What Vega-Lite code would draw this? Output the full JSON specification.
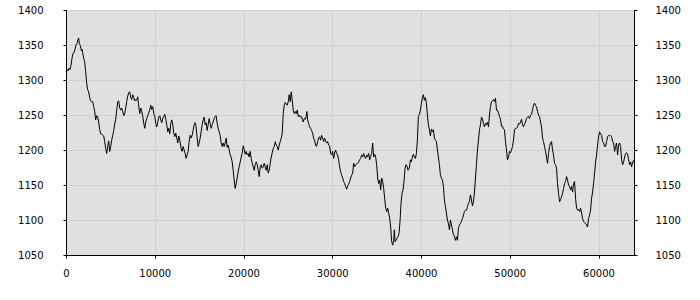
{
"$schema":"https://vega.github.io/schema/vega-lite/v6.json",
"width":568,"height":245,
"autosize":{"type":"none"},
"padding":{"left":66,"top":10,"right":66,"bottom":45},
"background":"white",
"config":{
"view":{"fill":"#e0e0e0","stroke":"black","strokeWidth":1},
"axis":{"labelFont":"DejaVu Sans","labelFontSize":10,"labelColor":"black","tickColor":"black","domainColor":"black","tickSize":3,"gridColor":"#d0d0d0","gridWidth":1,"title":null}
},
"data":{"values":[
{"x":0,"y":1312},{"x":113,"y":1315},{"x":226,"y":1313},{"x":338,"y":1317},{"x":451,"y":1315},{"x":564,"y":1321},{"x":677,"y":1331},{"x":790,"y":1338},{"x":902,"y":1339},{"x":1015,"y":1344},{"x":1128,"y":1350},{"x":1241,"y":1352},{"x":1354,"y":1358},{"x":1429,"y":1360},{"x":1504,"y":1352},{"x":1617,"y":1349},{"x":1730,"y":1342},{"x":1805,"y":1344},{"x":1880,"y":1339},{"x":1993,"y":1331},{"x":2106,"y":1326},{"x":2218,"y":1312},{"x":2331,"y":1295},{"x":2444,"y":1286},{"x":2557,"y":1283},{"x":2670,"y":1275},{"x":2782,"y":1270},{"x":2895,"y":1269},{"x":3008,"y":1269},{"x":3121,"y":1262},{"x":3234,"y":1255},{"x":3346,"y":1243},{"x":3459,"y":1249},{"x":3572,"y":1247},{"x":3685,"y":1240},{"x":3798,"y":1229},{"x":3910,"y":1223},{"x":4023,"y":1223},{"x":4136,"y":1221},{"x":4249,"y":1220},{"x":4362,"y":1212},{"x":4474,"y":1202},{"x":4587,"y":1195},{"x":4700,"y":1205},{"x":4813,"y":1213},{"x":4926,"y":1198},{"x":5038,"y":1205},{"x":5151,"y":1214},{"x":5264,"y":1221},{"x":5377,"y":1228},{"x":5490,"y":1237},{"x":5602,"y":1244},{"x":5715,"y":1257},{"x":5828,"y":1269},{"x":5941,"y":1270},{"x":6054,"y":1260},{"x":6166,"y":1257},{"x":6279,"y":1260},{"x":6392,"y":1255},{"x":6505,"y":1249},{"x":6618,"y":1252},{"x":6730,"y":1260},{"x":6843,"y":1269},{"x":6956,"y":1277},{"x":7069,"y":1282},{"x":7182,"y":1283},{"x":7294,"y":1275},{"x":7407,"y":1272},{"x":7520,"y":1279},{"x":7633,"y":1275},{"x":7746,"y":1270},{"x":7858,"y":1272},{"x":7971,"y":1271},{"x":8084,"y":1276},{"x":8197,"y":1262},{"x":8310,"y":1252},{"x":8422,"y":1260},{"x":8535,"y":1255},{"x":8648,"y":1248},{"x":8761,"y":1238},{"x":8874,"y":1231},{"x":8986,"y":1240},{"x":9099,"y":1245},{"x":9212,"y":1249},{"x":9325,"y":1253},{"x":9438,"y":1257},{"x":9550,"y":1264},{"x":9663,"y":1258},{"x":9776,"y":1262},{"x":9889,"y":1252},{"x":10002,"y":1248},{"x":10114,"y":1238},{"x":10227,"y":1233},{"x":10340,"y":1240},{"x":10453,"y":1247},{"x":10566,"y":1249},{"x":10678,"y":1243},{"x":10791,"y":1239},{"x":10904,"y":1245},{"x":11017,"y":1248},{"x":11130,"y":1251},{"x":11242,"y":1244},{"x":11355,"y":1236},{"x":11468,"y":1226},{"x":11581,"y":1231},{"x":11694,"y":1223},{"x":11806,"y":1238},{"x":11919,"y":1243},{"x":12032,"y":1236},{"x":12145,"y":1224},{"x":12258,"y":1219},{"x":12370,"y":1224},{"x":12483,"y":1217},{"x":12596,"y":1210},{"x":12709,"y":1220},{"x":12822,"y":1214},
{"x":12972,"y":1202},{"x":13085,"y":1198},{"x":13197,"y":1205},{"x":13310,"y":1200},{"x":13423,"y":1195},{"x":13536,"y":1188},{"x":13649,"y":1193},{"x":13761,"y":1198},{"x":13874,"y":1212},{"x":13987,"y":1221},{"x":14100,"y":1217},{"x":14213,"y":1221},{"x":14325,"y":1228},{"x":14438,"y":1236},{"x":14551,"y":1239},{"x":14664,"y":1233},{"x":14777,"y":1217},{"x":14889,"y":1205},{"x":15002,"y":1210},{"x":15115,"y":1217},{"x":15228,"y":1226},{"x":15341,"y":1236},{"x":15453,"y":1243},{"x":15566,"y":1247},{"x":15679,"y":1236},{"x":15792,"y":1239},{"x":15905,"y":1228},{"x":16017,"y":1236},{"x":16130,"y":1245},{"x":16243,"y":1238},{"x":16356,"y":1231},{"x":16469,"y":1236},{"x":16581,"y":1240},{"x":16694,"y":1245},{"x":16807,"y":1248},{"x":16920,"y":1249},{"x":17033,"y":1238},{"x":17145,"y":1231},{"x":17258,"y":1226},{"x":17371,"y":1221},{"x":17484,"y":1210},{"x":17597,"y":1205},{"x":17709,"y":1210},{"x":17822,"y":1205},{"x":17935,"y":1210},{"x":18048,"y":1217},{"x":18161,"y":1204},{"x":18273,"y":1207},{"x":18386,"y":1200},{"x":18499,"y":1193},{"x":18612,"y":1190},{"x":18725,"y":1183},{"x":18837,"y":1171},{"x":18950,"y":1157},{"x":19063,"y":1145},{"x":19176,"y":1152},{"x":19289,"y":1160},{"x":19401,"y":1169},{"x":19514,"y":1176},{"x":19627,"y":1183},{"x":19740,"y":1190},{"x":19853,"y":1195},{"x":19965,"y":1206},{"x":20078,"y":1201},{"x":20191,"y":1194},{"x":20304,"y":1198},{"x":20417,"y":1193},{"x":20529,"y":1195},{"x":20642,"y":1190},{"x":20755,"y":1198},{"x":20868,"y":1188},{"x":20981,"y":1181},{"x":21093,"y":1176},{"x":21206,"y":1171},{"x":21319,"y":1179},{"x":21432,"y":1183},{"x":21545,"y":1179},{"x":21657,"y":1171},{"x":21770,"y":1162},{"x":21883,"y":1176},{"x":21996,"y":1179},{"x":22109,"y":1174},{"x":22221,"y":1176},{"x":22334,"y":1181},{"x":22447,"y":1176},{"x":22560,"y":1171},{"x":22673,"y":1179},{"x":22785,"y":1167},{"x":22898,"y":1171},{"x":23011,"y":1181},{"x":23124,"y":1190},{"x":23237,"y":1196},{"x":23349,"y":1202},{"x":23462,"y":1205},{"x":23575,"y":1212},{"x":23688,"y":1207},{"x":23801,"y":1205},{"x":23913,"y":1200},{"x":24026,"y":1207},{"x":24139,"y":1212},{"x":24252,"y":1217},{"x":24365,"y":1224},{"x":24477,"y":1252},{"x":24590,"y":1264},{"x":24703,"y":1268},{"x":24816,"y":1266},{"x":24929,"y":1264},{"x":25041,"y":1269},{"x":25154,"y":1279},{"x":25267,"y":1269},{"x":25380,"y":1283},{"x":25493,"y":1271},{"x":25605,"y":1257},
{"x":25718,"y":1252},{"x":25831,"y":1255},{"x":25944,"y":1252},{"x":26056,"y":1257},{"x":26169,"y":1248},{"x":26282,"y":1250},{"x":26395,"y":1247},{"x":26508,"y":1248},{"x":26620,"y":1244},{"x":26733,"y":1240},{"x":26846,"y":1245},{"x":26959,"y":1244},{"x":27072,"y":1248},{"x":27147,"y":1255},{"x":27222,"y":1243},{"x":27335,"y":1238},{"x":27448,"y":1233},{"x":27560,"y":1231},{"x":27673,"y":1228},{"x":27786,"y":1224},{"x":27899,"y":1217},{"x":28012,"y":1214},{"x":28124,"y":1207},{"x":28237,"y":1205},{"x":28350,"y":1212},{"x":28463,"y":1217},{"x":28576,"y":1219},{"x":28688,"y":1214},{"x":28801,"y":1221},{"x":28914,"y":1217},{"x":29027,"y":1212},{"x":29140,"y":1217},{"x":29252,"y":1213},{"x":29365,"y":1210},{"x":29478,"y":1212},{"x":29591,"y":1207},{"x":29704,"y":1206},{"x":29816,"y":1195},{"x":29929,"y":1193},{"x":30042,"y":1198},{"x":30155,"y":1188},{"x":30268,"y":1196},{"x":30380,"y":1200},{"x":30493,"y":1195},{"x":30606,"y":1193},{"x":30719,"y":1186},{"x":30832,"y":1176},{"x":30944,"y":1169},{"x":31057,"y":1164},{"x":31170,"y":1160},{"x":31283,"y":1155},{"x":31396,"y":1152},{"x":31508,"y":1148},{"x":31621,"y":1144},{"x":31734,"y":1149},{"x":31847,"y":1151},{"x":31960,"y":1155},{"x":32072,"y":1160},{"x":32185,"y":1164},{"x":32298,"y":1167},{"x":32411,"y":1181},{"x":32524,"y":1176},{"x":32636,"y":1179},{"x":32749,"y":1180},{"x":32862,"y":1181},{"x":32975,"y":1183},{"x":33088,"y":1186},{"x":33200,"y":1188},{"x":33313,"y":1193},{"x":33426,"y":1190},{"x":33539,"y":1195},{"x":33652,"y":1190},{"x":33764,"y":1188},{"x":33877,"y":1193},{"x":33990,"y":1190},{"x":34103,"y":1195},{"x":34216,"y":1186},{"x":34328,"y":1191},{"x":34441,"y":1195},{"x":34554,"y":1210},{"x":34667,"y":1190},{"x":34780,"y":1194},{"x":34892,"y":1190},{"x":35005,"y":1179},{"x":35118,"y":1160},{"x":35231,"y":1152},{"x":35344,"y":1157},{"x":35456,"y":1143},{"x":35569,"y":1160},{"x":35682,"y":1155},{"x":35795,"y":1145},{"x":35908,"y":1131},{"x":36020,"y":1117},{"x":36133,"y":1112},{"x":36246,"y":1117},{"x":36359,"y":1110},{"x":36472,"y":1102},{"x":36584,"y":1090},{"x":36697,"y":1069},{"x":36810,"y":1064},{"x":36923,"y":1071},{"x":36998,"y":1086},{"x":37073,"y":1069},{"x":37186,"y":1071},{"x":37299,"y":1074},{"x":37412,"y":1076},{"x":37524,"y":1081},{"x":37637,"y":1098},{"x":37750,"y":1124},{"x":37863,"y":1138},{"x":37976,"y":1143},{"x":38088,"y":1155},{"x":38201,"y":1174},{"x":38314,"y":1179},{"x":38427,"y":1177},{"x":38540,"y":1171},
{"x":38691,"y":1174},{"x":38804,"y":1186},{"x":38916,"y":1183},{"x":39029,"y":1190},{"x":39142,"y":1194},{"x":39255,"y":1190},{"x":39368,"y":1188},{"x":39480,"y":1195},{"x":39593,"y":1214},{"x":39706,"y":1248},{"x":39819,"y":1251},{"x":39932,"y":1257},{"x":40044,"y":1267},{"x":40157,"y":1274},{"x":40270,"y":1279},{"x":40383,"y":1271},{"x":40496,"y":1275},{"x":40608,"y":1267},{"x":40721,"y":1250},{"x":40834,"y":1236},{"x":40947,"y":1229},{"x":41060,"y":1220},{"x":41172,"y":1230},{"x":41285,"y":1226},{"x":41398,"y":1229},{"x":41511,"y":1217},{"x":41624,"y":1214},{"x":41736,"y":1212},{"x":41849,"y":1200},{"x":41962,"y":1190},{"x":42075,"y":1179},{"x":42188,"y":1164},{"x":42300,"y":1160},{"x":42413,"y":1157},{"x":42526,"y":1148},{"x":42639,"y":1129},{"x":42752,"y":1119},{"x":42864,"y":1110},{"x":42977,"y":1100},{"x":43090,"y":1095},{"x":43203,"y":1086},{"x":43316,"y":1100},{"x":43428,"y":1093},{"x":43541,"y":1086},{"x":43654,"y":1079},{"x":43767,"y":1077},{"x":43880,"y":1071},{"x":43992,"y":1076},{"x":44105,"y":1071},{"x":44218,"y":1088},{"x":44331,"y":1093},{"x":44444,"y":1095},{"x":44556,"y":1098},{"x":44669,"y":1102},{"x":44782,"y":1107},{"x":44895,"y":1112},{"x":45008,"y":1114},{"x":45120,"y":1114},{"x":45233,"y":1119},{"x":45346,"y":1124},{"x":45459,"y":1126},{"x":45572,"y":1136},{"x":45684,"y":1129},{"x":45797,"y":1120},{"x":45910,"y":1126},{"x":46023,"y":1140},{"x":46136,"y":1160},{"x":46248,"y":1179},{"x":46361,"y":1200},{"x":46474,"y":1214},{"x":46587,"y":1229},{"x":46700,"y":1236},{"x":46812,"y":1247},{"x":46925,"y":1245},{"x":47038,"y":1238},{"x":47151,"y":1233},{"x":47264,"y":1238},{"x":47376,"y":1236},{"x":47489,"y":1240},{"x":47602,"y":1233},{"x":47715,"y":1250},{"x":47828,"y":1262},{"x":47940,"y":1269},{"x":48053,"y":1270},{"x":48166,"y":1272},{"x":48279,"y":1269},{"x":48392,"y":1274},{"x":48504,"y":1257},{"x":48617,"y":1257},{"x":48730,"y":1253},{"x":48843,"y":1248},{"x":48956,"y":1244},{"x":49068,"y":1234},{"x":49181,"y":1234},{"x":49294,"y":1230},{"x":49407,"y":1229},{"x":49520,"y":1212},{"x":49632,"y":1200},{"x":49745,"y":1186},{"x":49858,"y":1190},{"x":49971,"y":1198},{"x":50084,"y":1196},{"x":50196,"y":1200},{"x":50309,"y":1205},{"x":50422,"y":1214},{"x":50535,"y":1229},{"x":50648,"y":1231},{"x":50760,"y":1231},{"x":50873,"y":1233},{"x":50986,"y":1238},{"x":51099,"y":1237},{"x":51212,"y":1240},{"x":51324,"y":1244},
{"x":51437,"y":1236},{"x":51550,"y":1233},{"x":51663,"y":1237},{"x":51775,"y":1240},{"x":51888,"y":1245},{"x":52001,"y":1247},{"x":52114,"y":1248},{"x":52227,"y":1245},{"x":52339,"y":1250},{"x":52452,"y":1251},{"x":52565,"y":1257},{"x":52678,"y":1264},{"x":52791,"y":1267},{"x":52903,"y":1263},{"x":53016,"y":1262},{"x":53129,"y":1255},{"x":53242,"y":1250},{"x":53355,"y":1248},{"x":53467,"y":1240},{"x":53580,"y":1233},{"x":53693,"y":1217},{"x":53806,"y":1212},{"x":53919,"y":1205},{"x":54031,"y":1198},{"x":54144,"y":1190},{"x":54257,"y":1181},{"x":54370,"y":1195},{"x":54483,"y":1205},{"x":54595,"y":1210},{"x":54708,"y":1212},{"x":54821,"y":1200},{"x":54934,"y":1193},{"x":55047,"y":1181},{"x":55159,"y":1179},{"x":55272,"y":1174},{"x":55385,"y":1152},{"x":55498,"y":1138},{"x":55611,"y":1126},{"x":55723,"y":1129},{"x":55836,"y":1133},{"x":55949,"y":1138},{"x":56062,"y":1145},{"x":56175,"y":1152},{"x":56287,"y":1155},{"x":56400,"y":1162},{"x":56513,"y":1157},{"x":56626,"y":1150},{"x":56739,"y":1148},{"x":56851,"y":1143},{"x":56964,"y":1148},{"x":57077,"y":1140},{"x":57190,"y":1152},{"x":57303,"y":1155},{"x":57415,"y":1131},{"x":57528,"y":1117},{"x":57641,"y":1114},{"x":57754,"y":1115},{"x":57867,"y":1112},{"x":57979,"y":1117},{"x":58092,"y":1110},{"x":58205,"y":1102},{"x":58318,"y":1098},{"x":58431,"y":1096},{"x":58543,"y":1095},{"x":58656,"y":1093},{"x":58769,"y":1090},{"x":58882,"y":1102},{"x":58995,"y":1107},{"x":59107,"y":1114},{"x":59220,"y":1131},{"x":59333,"y":1140},{"x":59446,"y":1152},{"x":59559,"y":1167},{"x":59671,"y":1183},{"x":59784,"y":1193},{"x":59897,"y":1207},{"x":60010,"y":1219},{"x":60123,"y":1226},{"x":60235,"y":1223},{"x":60348,"y":1221},{"x":60461,"y":1212},{"x":60574,"y":1210},{"x":60687,"y":1205},{"x":60799,"y":1205},{"x":60912,"y":1212},{"x":61025,"y":1219},{"x":61138,"y":1221},{"x":61251,"y":1220},{"x":61363,"y":1221},{"x":61476,"y":1219},{"x":61589,"y":1212},{"x":61702,"y":1210},{"x":61815,"y":1198},{"x":61927,"y":1205},{"x":62040,"y":1210},{"x":62153,"y":1193},{"x":62266,"y":1207},{"x":62379,"y":1210},{"x":62491,"y":1205},{"x":62604,"y":1186},{"x":62717,"y":1179},{"x":62830,"y":1183},{"x":62943,"y":1190},{"x":63055,"y":1195},{"x":63168,"y":1196},{"x":63281,"y":1194},{"x":63394,"y":1186},{"x":63507,"y":1179},{"x":63619,"y":1183},{"x":63732,"y":1176},{"x":63845,"y":1183},{"x":63958,"y":1183},{"x":64000,"y":1186}
]},
"layer":[
{"mark":{"type":"line","color":"black","strokeWidth":1,"interpolate":"linear"},
"encoding":{
"x":{"field":"x","type":"quantitative","scale":{"domain":[0,64000],"nice":false,"zero":false},"axis":{"values":[0,10000,20000,30000,40000,50000,60000],"format":"d","labelPadding":10,"grid":true,"labelFlush":false}},
"y":{"field":"y","type":"quantitative","scale":{"domain":[1050,1400],"nice":false,"zero":false},"axis":{"orient":"left","values":[1050,1100,1150,1200,1250,1300,1350,1400],"format":"d","labelPadding":20,"grid":true,"labelFlush":false}}
}},
{"mark":{"type":"line","color":"black","strokeOpacity":0},
"encoding":{
"x":{"field":"x","type":"quantitative"},
"y":{"field":"y","type":"quantitative","axis":{"orient":"right","values":[1050,1100,1150,1200,1250,1300,1350,1400],"format":"d","labelPadding":18,"grid":false,"labelFlush":false}}
}}
],
"resolve":{"axis":{"y":"independent"}}
}
